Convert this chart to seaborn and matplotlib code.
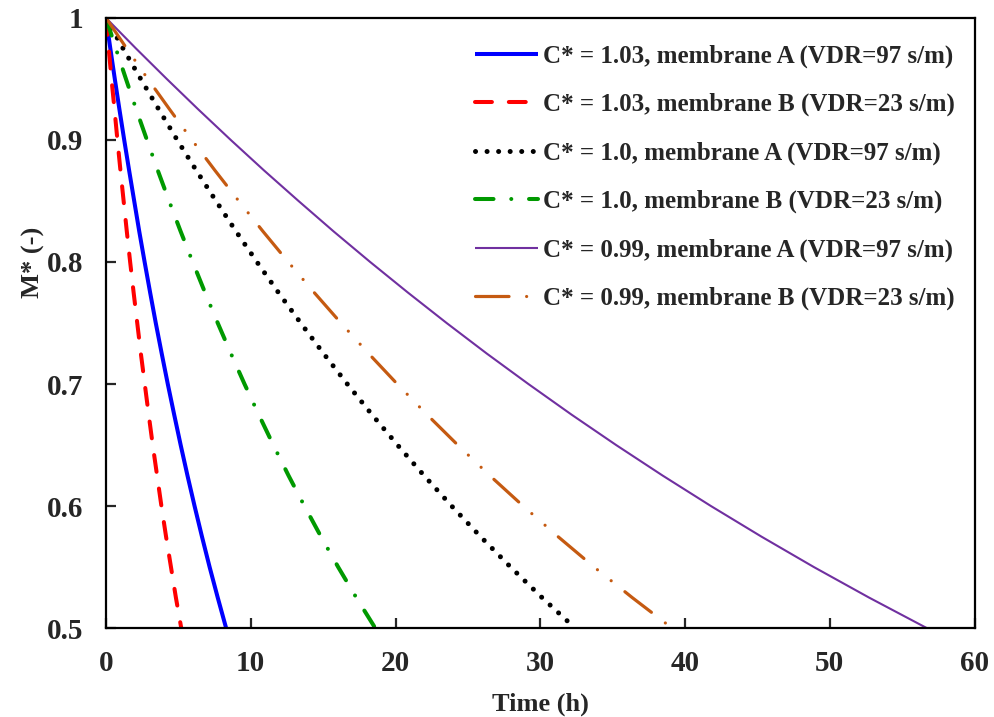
import matplotlib
matplotlib.use("Agg")
import matplotlib.pyplot as plt
import seaborn as sns
import pandas as pd
from matplotlib.ticker import FuncFormatter

# Normalised moisture content levels and the drying time (h) at which each case reaches them
m_levels = [1.0, 0.975, 0.95, 0.925, 0.9, 0.875, 0.85, 0.825, 0.8, 0.775, 0.75,
            0.725, 0.7, 0.675, 0.65, 0.625, 0.6, 0.575, 0.55, 0.525, 0.5]

t_103_A = [0, 0.30, 0.61, 0.93, 1.26, 1.60, 1.95, 2.30, 2.67, 3.05, 3.44,
           3.85, 4.27, 4.71, 5.16, 5.63, 6.12, 6.63, 7.16, 7.72, 8.3]
t_103_B = [0, 0.19, 0.38, 0.59, 0.79, 1.00, 1.22, 1.44, 1.67, 1.91, 2.16,
           2.41, 2.68, 2.95, 3.23, 3.53, 3.83, 4.15, 4.49, 4.83, 5.2]
t_100_A = [0, 1.18, 2.40, 3.65, 4.92, 6.24, 7.60, 8.99, 10.43, 11.91, 13.45,
           15.03, 16.67, 18.37, 20.14, 21.97, 23.88, 25.87, 27.95, 30.12, 32.4]
t_100_B = [0, 0.68, 1.38, 2.09, 2.83, 3.58, 4.36, 5.16, 5.99, 6.84, 7.72,
           8.63, 9.57, 10.55, 11.56, 12.61, 13.71, 14.85, 16.04, 17.29, 18.6]
t_099_A = [0, 2.07, 4.20, 6.38, 8.62, 10.92, 13.30, 15.73, 18.25, 20.85, 23.53,
           26.30, 29.18, 32.15, 35.24, 38.45, 41.79, 45.27, 48.90, 52.71, 56.7]
t_099_B = [0, 1.43, 2.89, 4.40, 5.94, 7.53, 9.17, 10.85, 12.59, 14.38, 16.23,
           18.14, 20.12, 22.17, 24.30, 26.51, 28.82, 31.22, 33.72, 36.35, 39.1]

labels = [
    "C* = 1.03, membrane A (VDR=97 s/m)",
    "C* = 1.03, membrane B (VDR=23 s/m)",
    "C* = 1.0, membrane A (VDR=97 s/m)",
    "C* = 1.0, membrane B (VDR=23 s/m)",
    "C* = 0.99, membrane A (VDR=97 s/m)",
    "C* = 0.99, membrane B (VDR=23 s/m)",
]
series = [t_103_A, t_103_B, t_100_A, t_100_B, t_099_A, t_099_B]

styles = [
    dict(color="#0000FF", lw=2.9, linestyle="-"),
    dict(color="#FF0000", lw=2.9, linestyle=(0, (4.2, 4.2)), dash_capstyle="round"),
    dict(color="#000000", lw=3.6, linestyle=(0, (0.01, 2.3)), dash_capstyle="round"),
    dict(color="#009900", lw=2.9, linestyle=(0, (4.6, 4.4, 0.01, 4.4)), dash_capstyle="round"),
    dict(color="#7030A0", lw=1.5, linestyle="-"),
    dict(color="#C55A11", lw=2.3, linestyle=(0, (10.5, 5.5, 0.01, 5.5, 0.01, 5.5)), dash_capstyle="round"),
]

sns.set_theme(style="ticks")
plt.rcParams["font.family"] = ["Liberation Serif", "DejaVu Serif"]
plt.rcParams["font.weight"] = "bold"

fig = plt.figure(figsize=(9.95, 7.17), dpi=100)
ax = fig.add_axes([0.1065, 0.124, 0.873, 0.851])

for t, lab, st in zip(series, labels, styles):
    df = pd.DataFrame({"Time": t, "M": m_levels})
    sns.lineplot(data=df, x="Time", y="M", ax=ax, sort=False, label=lab,
                 estimator=None, solid_capstyle="butt", **st)

ax.set_xlim(0, 60)
ax.set_ylim(0.5, 1.0)
ax.set_xticks([0, 10, 20, 30, 40, 50, 60])
ax.set_yticks([0.5, 0.6, 0.7, 0.8, 0.9, 1.0])
ax.yaxis.set_major_formatter(FuncFormatter(lambda v, p: "1" if abs(v - 1) < 1e-9 else f"{v:.1f}"))

ax.tick_params(axis="both", direction="in", length=7, width=1.6, labelsize=21,
               top=False, right=False)
ax.tick_params(axis="x", pad=16)
ax.tick_params(axis="y", pad=16)
for lbl in ax.get_xticklabels() + ax.get_yticklabels():
    lbl.set_fontweight("bold")
for sp in ax.spines.values():
    sp.set_visible(True)
    sp.set_linewidth(1.6)
    sp.set_color("black")

ax.set_xlabel("Time (h)", fontsize=19, fontweight="bold")
ax.set_ylabel("M* (-)", fontsize=19, fontweight="bold")
ax.xaxis.set_label_coords(0.5, -0.106)
ax.yaxis.set_label_coords(-0.070, 0.6)

leg = ax.legend(loc="upper right", frameon=False, fontsize=18, handlelength=2.5,
                handletextpad=0.2, labelspacing=1.0, borderaxespad=0.3,
                bbox_to_anchor=(0.997, 0.985))
for txt in leg.get_texts():
    txt.set_fontweight("bold")

fig.savefig("out.png", dpi=100)
